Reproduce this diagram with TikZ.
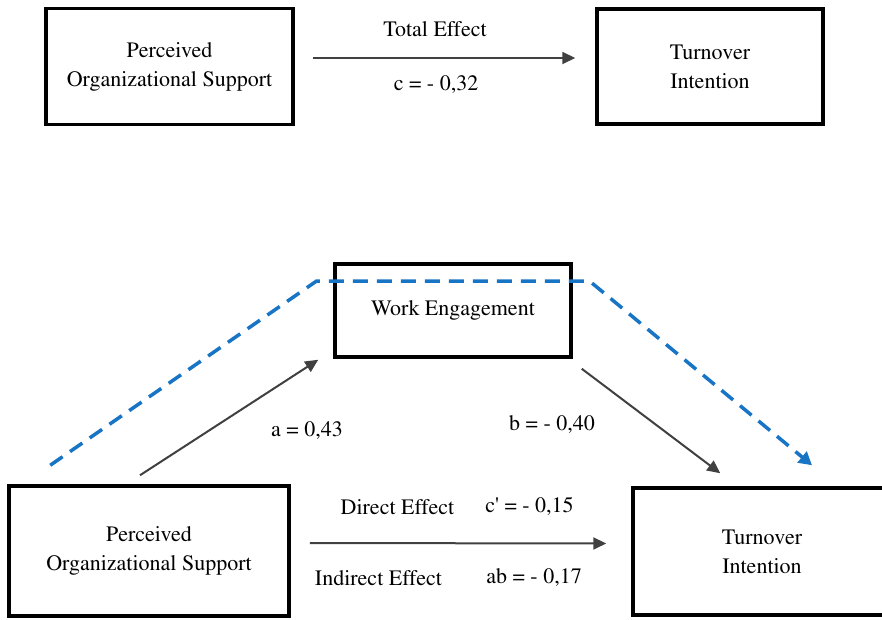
\documentclass[tikz,border=0pt]{standalone}
\usepackage[T1]{fontenc}
\usepackage{times}
\usepackage{tikz}
\usetikzlibrary{
	calc,
	positioning,
	arrows.meta
}
\definecolor{dashblue}{RGB}{24,116,196}

\begin{document}
\begin{tikzpicture}[
				x=1pt, y=1pt,
				every node/.style={font=\rmfamily\fontsize{22}{29}\selectfont},
				box/.style={draw, line width=3.5pt, align=center, inner sep=0pt},
				coef/.style={inner sep=0pt},
				path/.style={-{Triangle[length=13pt, width=12pt]}, line width=2pt, black!75},
				route/.style={-{Triangle[length=13pt, width=14pt]}, line width=3.5pt, dashblue, dash pattern=on 15pt off 9pt}
			]
				\useasboundingbox (0,0) rectangle (882,619);
				% 总效应
				\node[box, minimum width=247pt, minimum height=116pt] (posA) at (169.5,552.5) {Perceived\\Organizational Support};
				\node[box, minimum width=226pt, minimum height=115pt] (tiA)  at (710,552.5)   {Turnover\\Intention};
				\draw[path] ($(posA.east)+(18,8.5)$) -- ($(tiA.west)+(-20,8.5)$);
				\node[coef] (total) at (435,590) {Total Effect};
				\node[coef] (cval)  at (436,534) {c = - 0,32};

				% 中介
				\node[box, minimum width=236pt, minimum height=93pt] (weB)  at (453,308.5) {\raisebox{-7pt}{Work Engagement}};
				\node[box, minimum width=280pt, minimum height=130pt] (posB) at (149,68)    {Perceived\\Organizational Support};
				\node[box, minimum width=258pt, minimum height=127pt] (tiB)  at (762,67.5)  {Turnover\\Intention};

				% 坐标
				\coordinate (blue0) at ($(posB.north west)+(43,19)$);
				\coordinate (blue1) at ($(weB.north west)+(-17,-19)$);
				\coordinate (blue2) at ($(weB.north east)+(17,-19)$);
				\coordinate (blue3) at ($(tiB.north)+(50,21)$);

				% 间接路径
				\draw[route] (blue0) -- (blue1) -- (blue2) -- (blue3);

				% 箭头
				\draw[path] ($(posB.north)+(-9,9)$) -- ($(weB.south west)+(-15,-1)$);
				\draw[path] ($(weB.south east)+(9,-10)$) -- ($(tiB.north west)+(89,13)$);
				\draw[path] ($(posB.east)+(19,8)$) -- ($(tiB.west)+(-25,8)$);

				% 系数
				\node[coef] (aval)     at (307,188)   {a = 0,43};
				\node[coef] (bval)     at (552,194)   {b = - 0,40};
				\node[coef] (direct)   at (397.5,112) {Direct Effect};
				\node[coef] (cprime)   at (529.5,112) {c\textquotesingle{} = - 0,15};
				\node[coef] (indirect) at (378.5,41)  {Indirect Effect};
				\node[coef] (abval)    at (534,41)    {ab = - 0,17};
			\end{tikzpicture}
\end{document}
